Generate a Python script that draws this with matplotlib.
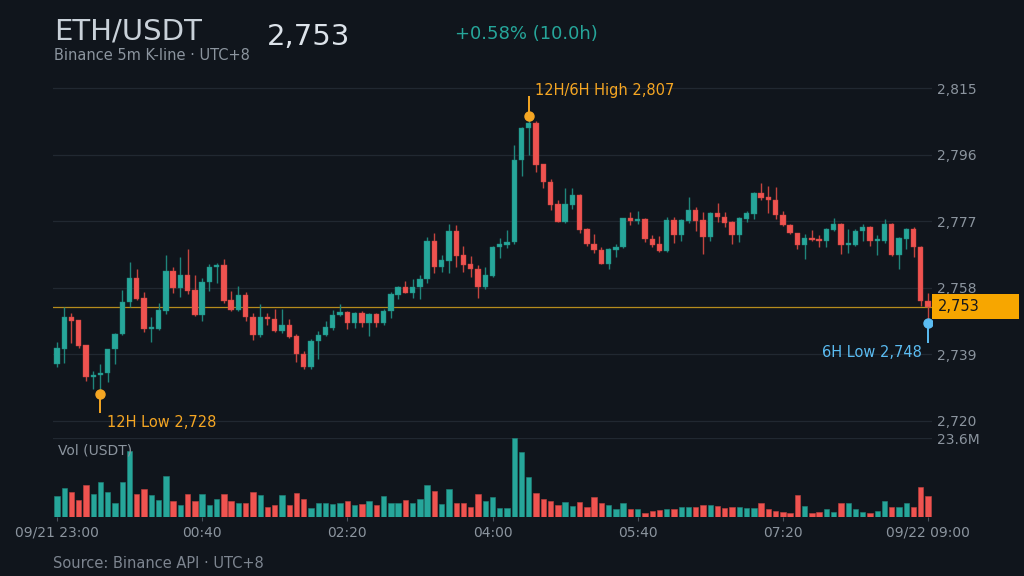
import matplotlib
matplotlib.use("Agg")
import matplotlib.pyplot as plt
from matplotlib.patches import Rectangle

# ---------- data (ETHUSDT 5m candles, 09/21 23:00 -> 09/22 09:00, UTC+8) ----------

opens = [
    2736.2, 2740.5, 2749.6, 2748.7, 2741.6, 2732.5, 2733.2, 2733.7, 2740.4, 2744.7,
    2753.9, 2760.8, 2755.1, 2746.2, 2746.2, 2751.5, 2762.7, 2757.9, 2761.7, 2757.4,
    2750.2, 2759.7, 2763.8, 2764.6, 2754.5, 2751.7, 2755.9, 2749.6, 2744.6, 2749.8,
    2749.2, 2745.8, 2747.3, 2744.2, 2739.1, 2735.5, 2742.9, 2744.5, 2746.5, 2750.2,
    2751.1, 2747.9, 2750.9, 2748.1, 2750.5, 2747.9, 2751.5, 2756.0, 2758.1, 2756.6,
    2758.3, 2760.4, 2771.4, 2763.8, 2765.7, 2774.1, 2767.3, 2764.8, 2763.5, 2758.1,
    2761.5, 2769.6, 2770.2, 2771.0, 2794.4, 2803.5, 2805.0, 2793.2, 2788.3, 2781.8,
    2776.9, 2781.6, 2784.5, 2774.8, 2770.6, 2768.9, 2764.9, 2768.9, 2769.6, 2777.8,
    2777.0, 2777.7, 2772.0, 2770.5, 2768.4, 2777.4, 2773.0, 2777.1, 2780.2, 2777.4,
    2772.4, 2779.3, 2778.3, 2776.8, 2773.0, 2777.7, 2779.0, 2785.1, 2783.8, 2783.2,
    2778.9, 2776.0, 2773.5, 2770.1, 2772.2, 2771.8, 2771.3, 2774.5, 2776.2, 2770.1,
    2770.1, 2774.1, 2775.3, 2771.3, 2771.4, 2776.2, 2767.3, 2772.0, 2774.9, 2769.6,
    2754.3,
]
highs = [
    2742.4, 2752.6, 2750.7, 2748.9, 2741.8, 2734.3, 2736.2, 2740.6, 2745.0, 2757.4,
    2765.4, 2763.3, 2756.8, 2749.6, 2753.6, 2767.4, 2763.8, 2766.9, 2769.0, 2761.7,
    2760.8, 2764.8, 2765.2, 2766.1, 2757.2, 2758.4, 2756.8, 2750.9, 2753.4, 2750.9,
    2751.9, 2751.9, 2749.2, 2744.8, 2740.0, 2743.5, 2745.6, 2748.6, 2751.7, 2753.4,
    2751.5, 2751.2, 2751.5, 2750.8, 2750.8, 2752.0, 2756.8, 2758.4, 2760.0, 2760.6,
    2761.7, 2772.4, 2773.5, 2767.3, 2776.2, 2776.0, 2769.9, 2767.1, 2764.6, 2763.8,
    2770.0, 2772.1, 2774.4, 2798.7, 2804.0, 2807.0, 2805.6, 2793.4, 2789.0, 2783.0,
    2786.6, 2786.6, 2784.8, 2775.0, 2773.4, 2769.6, 2769.3, 2770.4, 2778.0, 2779.5,
    2779.9, 2778.0, 2773.1, 2772.8, 2778.2, 2778.3, 2777.6, 2784.0, 2781.1, 2779.6,
    2779.6, 2782.3, 2779.6, 2777.0, 2778.1, 2780.0, 2785.3, 2788.0, 2787.0, 2786.8,
    2780.0, 2776.2, 2773.7, 2773.3, 2774.5, 2773.0, 2775.0, 2777.9, 2776.4, 2774.7,
    2774.9, 2776.2, 2775.5, 2773.0, 2777.5, 2776.4, 2772.4, 2775.1, 2775.4, 2769.8,
    2756.6,
]
lows = [
    2735.5, 2736.5, 2742.3, 2740.9, 2731.5, 2729.0, 2727.8, 2731.2, 2736.2, 2744.5,
    2752.6, 2754.5, 2745.5, 2742.4, 2746.0, 2750.5, 2756.4, 2755.5, 2756.2, 2750.0,
    2748.6, 2757.2, 2759.5, 2753.6, 2751.3, 2751.5, 2748.5, 2743.1, 2744.0, 2747.5,
    2745.5, 2745.0, 2743.8, 2736.9, 2734.7, 2734.7, 2737.8, 2744.3, 2746.0, 2750.0,
    2746.3, 2746.5, 2746.7, 2744.2, 2746.9, 2747.5, 2749.4, 2754.9, 2756.4, 2755.1,
    2754.7, 2759.5, 2762.1, 2762.5, 2762.3, 2764.0, 2762.5, 2761.2, 2755.1, 2757.7,
    2761.2, 2766.4, 2769.4, 2770.6, 2790.0, 2795.9, 2791.0, 2786.4, 2780.3, 2776.7,
    2776.5, 2780.5, 2773.6, 2770.0, 2767.9, 2764.7, 2763.4, 2766.8, 2769.4, 2775.9,
    2776.1, 2771.0, 2769.6, 2768.2, 2768.2, 2770.7, 2771.3, 2776.4, 2774.1, 2767.6,
    2771.4, 2776.8, 2775.3, 2770.5, 2771.0, 2776.8, 2777.7, 2783.0, 2779.3, 2777.7,
    2775.5, 2773.3, 2769.0, 2766.3, 2771.3, 2769.6, 2769.6, 2774.3, 2767.6, 2767.8,
    2769.8, 2771.3, 2769.9, 2767.3, 2770.9, 2767.0, 2763.5, 2769.2, 2766.9, 2752.8,
    2748.0,
]
closes = [
    2740.7, 2749.6, 2748.5, 2741.4, 2732.5, 2733.2, 2733.8, 2740.4, 2744.8, 2753.9,
    2760.8, 2754.9, 2746.2, 2746.5, 2751.7, 2762.7, 2757.9, 2761.7, 2757.2, 2750.2,
    2759.8, 2763.8, 2764.6, 2754.3, 2751.7, 2755.9, 2749.6, 2744.6, 2749.8, 2749.0,
    2745.8, 2747.3, 2744.0, 2739.0, 2735.5, 2742.9, 2744.6, 2746.7, 2750.3, 2751.1,
    2747.9, 2750.9, 2748.1, 2750.5, 2748.1, 2751.5, 2756.2, 2758.1, 2756.6, 2758.3,
    2760.6, 2771.4, 2763.8, 2765.9, 2774.1, 2767.1, 2764.6, 2763.3, 2758.3, 2761.7,
    2769.7, 2770.4, 2771.1, 2794.5, 2803.7, 2805.0, 2793.0, 2788.1, 2781.6, 2776.9,
    2781.8, 2784.5, 2774.6, 2770.4, 2768.7, 2764.9, 2769.1, 2769.6, 2777.8, 2777.0,
    2777.6, 2772.0, 2770.3, 2768.4, 2777.4, 2773.0, 2777.4, 2780.2, 2777.1, 2772.4,
    2779.3, 2778.1, 2776.6, 2773.0, 2777.9, 2779.3, 2785.1, 2783.6, 2783.0, 2778.7,
    2775.8, 2773.5, 2770.1, 2772.2, 2771.6, 2771.3, 2774.7, 2776.2, 2770.1, 2770.5,
    2774.3, 2775.3, 2771.3, 2771.6, 2776.2, 2767.3, 2772.2, 2774.9, 2769.6, 2754.3,
    2752.6,
]
# volume in millions of USDT
volumes = [
    6.2, 8.6, 7.4, 5.0, 9.6, 6.8, 10.4, 7.4, 4.0, 10.4,
    19.6, 6.8, 8.2, 6.6, 5.0, 12.2, 4.6, 3.6, 6.8, 4.8,
    6.8, 3.6, 5.2, 6.8, 4.6, 4.2, 4.2, 7.4, 6.6, 2.8,
    3.6, 6.4, 3.6, 7.0, 5.2, 2.6, 4.2, 4.0, 3.8, 4.0,
    4.6, 3.4, 3.8, 4.6, 3.6, 6.2, 4.2, 4.0, 5.0, 4.2,
    5.2, 9.6, 7.6, 3.8, 8.2, 4.2, 4.2, 3.0, 6.8, 4.6,
    6.0, 2.6, 2.6, 23.6, 19.4, 11.8, 7.0, 5.4, 4.8, 3.6,
    4.4, 3.2, 4.4, 2.8, 5.8, 4.0, 3.6, 2.4, 4.0, 2.2,
    2.4, 1.2, 1.6, 2.0, 2.4, 2.2, 3.0, 3.0, 3.0, 3.6,
    3.4, 3.2, 2.6, 3.0, 2.8, 2.6, 2.6, 4.0, 2.4, 1.8,
    1.4, 1.0, 6.4, 3.2, 1.0, 1.4, 2.4, 1.4, 4.2, 4.2,
    2.2, 1.4, 1.2, 1.8, 4.8, 2.8, 2.8, 4.0, 3.0, 8.8,
    6.2,
]

tick_pos = [0, 20, 40, 60, 80, 100, 120]
tick_labels = ["09/21 23:00", "00:40", "02:20", "04:00", "05:40", "07:20", "09/22 09:00"]
price_ticks = [2720, 2739, 2758, 2777, 2796, 2815]

# (candle index, price, label)
high_12h = (65, 2807.0, "12H/6H High 2,807")
low_12h = (6, 2727.8, "12H Low 2,728")
low_6h = (120, 2748.0, "6H Low 2,748")
last_price = 2752.6

# ---------- style ----------

BG = "#10151c"
GRID = "#212831"
TXT = "#8b949e"
UP = "#26a69a"
DOWN = "#ef5350"
UP_WICK = "#1f857b"
DOWN_WICK = "#c4443f"
ORANGE = "#f5a623"
BLUE = "#5bbcf2"
BAR_W = 0.74

W, H = 1024, 576
fig = plt.figure(figsize=(W / 100, H / 100), dpi=100, facecolor=BG)

ax = fig.add_axes([53.3 / W, 1 - 428 / H, 878.4 / W, 348 / H])
axv = fig.add_axes([53.3 / W, 1 - 516.7 / H, 878.4 / W, 78.7 / H], sharex=ax)

n = len(closes)
x = list(range(n))
colors = [UP if c >= o else DOWN for o, c in zip(opens, closes)]
wick_colors = [UP_WICK if c >= o else DOWN_WICK for o, c in zip(opens, closes)]

# ---------- price pane ----------

ax.set_facecolor(BG)
ax.vlines(x, lows, highs, colors=wick_colors, linewidth=1.0, zorder=2)
bottoms = [min(o, c) for o, c in zip(opens, closes)]
heights = [max(abs(c - o), 0.6) for o, c in zip(opens, closes)]
ax.bar(x, heights, bottom=bottoms, width=BAR_W, color=colors,
       edgecolor=wick_colors, linewidth=0.3, zorder=3)

ax.axhline(last_price, color="#c99a1e", linewidth=0.9, alpha=0.9, zorder=1)

ax.set_xlim(-0.5, n - 0.5)
ax.set_ylim(2718.0, 2817.3)
ax.set_yticks(price_ticks)
ax.set_yticklabels([f"{p:,}" for p in price_ticks])
ax.yaxis.tick_right()
ax.tick_params(axis="y", length=0, pad=3.6, labelsize=10, labelcolor=TXT)
ax.tick_params(axis="x", bottom=False, labelbottom=False)
ax.grid(axis="y", color=GRID, linewidth=0.9)
ax.set_axisbelow(True)
for s in ax.spines.values():
    s.set_visible(False)

# last price box on the right
ytr = ax.get_yaxis_transform()
box_h = 25 / 3.505
ax.add_patch(Rectangle((1.0, last_price - box_h / 2), 87 / 878.4, box_h,
                       transform=ytr, facecolor="#f7a600", edgecolor="none",
                       clip_on=False, zorder=5))
ax.text(1.0 + 6 / 878.4, last_price, f"{round(last_price):,}", transform=ytr,
        color="#15181d", fontsize=10.5, va="center", ha="left", zorder=6)

# high / low markers with stems
def mark(item, color, stem_px, dx, dy, ha):
    i, p, label = item
    stem = stem_px / 3.505
    ax.plot([i, i], [p, p + stem], color=color, linewidth=1.4, zorder=6,
            solid_capstyle="butt")
    ax.plot(i, p, "o", color=color, markersize=6.5, zorder=7)
    ax.annotate(label, xy=(i, p), xytext=(dx, dy), textcoords="offset pixels",
                color=color, fontsize=10.5, ha=ha, va="center", zorder=7)

mark(high_12h, ORANGE, 20, 6, 26, "left")
mark(low_12h, ORANGE, -19, 7, -29, "left")
mark(low_6h, BLUE, -20, -6, -30, "right")

# ---------- volume pane ----------

axv.set_facecolor(BG)
axv.bar(x, volumes, width=BAR_W, color=colors, edgecolor=wick_colors,
        linewidth=0.4, zorder=3)
axv.set_ylim(0, max(volumes))
axv.set_yticks([max(volumes)])
axv.set_yticklabels([f"{max(volumes):.1f}M"])
axv.yaxis.tick_right()
axv.tick_params(axis="y", length=0, pad=3.6, labelsize=10, labelcolor=TXT)
axv.grid(axis="y", color=GRID, linewidth=0.9)
axv.set_axisbelow(True)
axv.set_xticks(tick_pos)
axv.set_xticklabels(tick_labels)
axv.tick_params(axis="x", length=2.6, width=0.8, color="#4a525c",
                labelsize=10, labelcolor=TXT, pad=4)
for s in axv.spines.values():
    s.set_visible(False)
axv.text(0.005, 0.847, "Vol (USDT)", transform=axv.transAxes, color=TXT,
         fontsize=10, va="center", ha="left")

# ---------- header / footer ----------

def ftext(px, py, s, **kw):
    fig.text(px / W, 1 - py / H, s, va="baseline", ha="left", **kw)

ftext(54, 40, "ETH/USDT", fontsize=21, color="#c9d1d9")
ftext(267, 45, f"{round(last_price):,}", fontsize=21, color="#dde3ea")
ftext(455, 39, "+0.58% (10.0h)", fontsize=13, color=UP)
ftext(54, 60, "Binance 5m K-line \u00b7 UTC+8", fontsize=10.5, color=TXT)
ftext(53.3, 568, "Source: Binance API \u00b7 UTC+8", fontsize=10.5, color="#7d8590")

fig.savefig("out.png", dpi=100, facecolor=BG)
